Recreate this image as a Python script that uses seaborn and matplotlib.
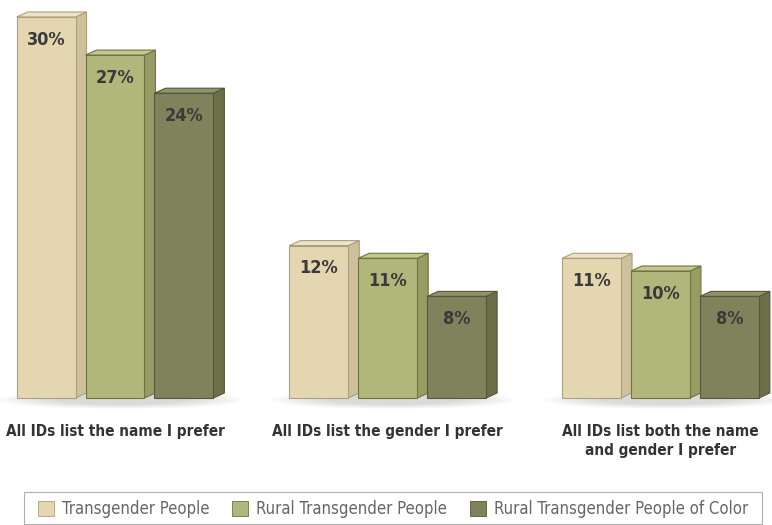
import matplotlib
matplotlib.use("Agg")
import matplotlib.pyplot as plt
from matplotlib.patches import Polygon, Rectangle, Ellipse
import seaborn as sns
import pandas as pd

# data
categories = ["All IDs list the name I prefer",
              "All IDs list the gender I prefer",
              "All IDs list both the name\nand gender I prefer"]
groups = ["Transgender People", "Rural Transgender People",
          "Rural Transgender People of Color"]
transgender = [30, 12, 11]
rural = [27, 11, 10]
rural_poc = [24, 8, 8]

front = ["#e4d6b0", "#b1b67b", "#7f825b"]
side = ["#cdc09a", "#969c63", "#6c7049"]
top = ["#ece3c8", "#c3c790", "#8f936a"]
edge = ["#a9a07e", "#70753f", "#555838"]

rows = []
for g, vals in zip(groups, [transgender, rural, rural_poc]):
    for c, v in zip(categories, vals):
        rows.append({"category": c, "group": g, "value": v})
df = pd.DataFrame(rows)

sns.set_style("white")
plt.rcParams["font.family"] = ["DejaVu Sans"]
plt.rcParams["font.stretch"] = "condensed"

fig = plt.figure(figsize=(7.72, 5.25), dpi=100)
ax = fig.add_axes([0, (525 - 398) / 525, 1, 398 / 525])

sns.barplot(data=df, x="category", y="value", hue="group", palette=front,
            width=0.758, gap=0.145, ax=ax, legend=False, saturation=1,
            edgecolor="none")

ax.set_xlim(-115 / 272.75, (772 - 115) / 272.75)
ax.set_ylim(0, 398 / 12.7)

# depth of the 3d faces
dx = 11 / 272.75
dy = 5 / 12.7

# soft shadows under each group
for i in range(len(categories)):
    for k in range(8):
        ax.add_patch(Ellipse((i + 0.02, -0.15), 0.9 - k * 0.06, 1.4 - k * 0.1,
                             facecolor="#808080", alpha=0.04, edgecolor="none",
                             clip_on=False, zorder=0))

bars = [b for b in ax.patches if isinstance(b, Rectangle)]
for idx, b in enumerate(bars):
    gi = idx // len(categories)
    x0, w, h = b.get_x(), b.get_width(), b.get_height()
    x1 = x0 + w
    b.set_zorder(3 + gi)
    b.set_edgecolor(edge[gi])
    b.set_linewidth(0.8)
    b.set_clip_on(False)
    z = b.get_zorder()
    ax.add_patch(Polygon([(x1, 0), (x1 + dx, dy), (x1 + dx, h + dy), (x1, h)],
                         closed=True, facecolor=side[gi], edgecolor=edge[gi],
                         linewidth=0.8, clip_on=False, zorder=z - 0.5))
    ax.add_patch(Polygon([(x0, h), (x0 + dx, h + dy), (x1 + dx, h + dy), (x1, h)],
                         closed=True, facecolor=top[gi], edgecolor=edge[gi],
                         linewidth=0.8, clip_on=False, zorder=z - 0.5))
    ax.text(x0 + w / 2, h - 1.8, f"{h:.0f}%", ha="center", va="center",
            fontsize=13, fontweight="bold", color="#3a3a3a", zorder=z + 1,
            fontstretch="condensed")

sns.despine(ax=ax, left=True, bottom=True)
ax.set_xlabel("")
ax.set_ylabel("")
ax.set_yticks([])
ax.tick_params(axis="x", length=0, pad=19)
for lab in ax.get_xticklabels():
    lab.set_fontweight("bold")
    lab.set_fontsize(11)
    lab.set_fontstretch("condensed")
    lab.set_color("#333333")
    lab.set_linespacing(1.3)
    lab.set_verticalalignment("top")

# legend at the bottom with a thin frame
handles = [Rectangle((0, 0), 1, 1, facecolor=front[i], edgecolor=edge[i],
                     linewidth=0.6) for i in range(3)]
fig.legend(handles, groups, loc="center", bbox_to_anchor=(393 / 772, 1 - 509 / 525),
           ncol=3, frameon=False, prop={"size": 12, "stretch": "condensed"},
           labelcolor="#666666", handlelength=0.96, handleheight=0.96,
           handletextpad=0.48, columnspacing=1.35)
fig.add_artist(Rectangle((24 / 772, 1 - 524 / 525), 738 / 772, 32 / 525,
                         transform=fig.transFigure, fill=False,
                         edgecolor="#b0b0b0", linewidth=0.8))

fig.savefig("out.png", dpi=100)
